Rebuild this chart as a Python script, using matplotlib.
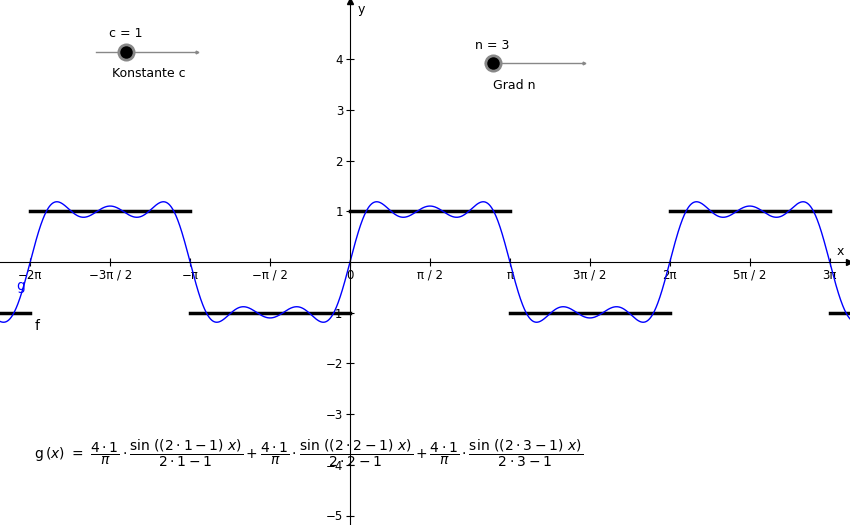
import numpy as np
import matplotlib.pyplot as plt

# slider values
c = 1
n = 3
# square wave f: (x start, x end, level) in multiples of pi
f_segments = [(-3, -2, -1), (-2, -1, 1), (-1, 0, -1), (0, 1, 1), (1, 2, -1), (2, 3, 1), (3, 4, -1)]
x_tick_pos = [-2, -1.5, -1, -0.5, 0, 0.5, 1, 1.5, 2, 2.5, 3]
x_tick_lab = ['−2π', '−3π / 2', '−π', '−π / 2', '0', 'π / 2', 'π', '3π / 2', '2π', '5π / 2', '3π']
y_ticks = [-5, -4, -3, -2, -1, 1, 2, 3, 4]

xmin, xmax = -350 / 50.9, 500 / 50.9
ymin, ymax = -263 / 50.7, 262 / 50.7

fig = plt.figure(figsize=(8.5, 5.25), dpi=100)
ax = fig.add_axes([0, 0, 1, 1])
ax.set_xlim(xmin, xmax)
ax.set_ylim(ymin, ymax)
for s in ['top', 'right']:
    ax.spines[s].set_visible(False)
ax.spines['left'].set_position(('data', 0))
ax.spines['bottom'].set_position(('data', 0))
ax.plot(xmax - 0.02, 0, '>k', ms=4, clip_on=False)
ax.plot(0, ymax - 0.02, '^k', ms=4, clip_on=False)

ax.set_xticks([t * np.pi for t in x_tick_pos])
ax.set_xticklabels(x_tick_lab)
ax.set_yticks(y_ticks)
ax.tick_params(direction='inout', length=6, labelsize=8.5, pad=2)
ax.text(xmax - 0.12, 0.08, 'x', fontsize=9, ha='right', va='bottom')
ax.text(0.15, ymax - 0.05, 'y', fontsize=9, va='top')

# f
for a, b, lvl in f_segments:
    ax.plot([a * np.pi, b * np.pi], [lvl, lvl], color='black', lw=2.5)

# g: partial Fourier sum
x = np.linspace(xmin, xmax, 2000)
g = np.zeros_like(x)
for k in range(1, n + 1):
    g += 4 * c / np.pi * np.sin((2 * k - 1) * x) / (2 * k - 1)
ax.plot(x, g, color='#0000ff', lw=1)
ax.text(-6.56, -0.55, 'g', color='#0000ff', fontsize=10)
ax.text(-6.2, -1.35, 'f', color='black', fontsize=10)

# sliders
def slider(x0, x1, y, knob, label, name):
    ax.plot([x0, x1], [y, y], color='#888888', lw=1)
    ax.plot(x1, y, '>', color='#888888', ms=2)
    ax.plot(knob, y, 'o', ms=11, mfc='black', mec='#888888', mew=2)
    ax.text(knob, y + 0.28, label, fontsize=9, ha='center')
    ax.text(knob + (x1 - x0) * 0.22, y - 0.5, name, fontsize=9, ha='center')

slider(-5.0, -3.0, 4.15, -4.4, 'c = 1', 'Konstante c')
slider(2.65, 4.6, 3.92, 2.8, 'n = 3', 'Grad n')

formula = (r'$\mathrm{g}\,(x)\ =\ \dfrac{4\cdot1}{\pi}\cdot\dfrac{\sin\,((2\cdot1-1)\ x)}{2\cdot1-1}'
           r'+\dfrac{4\cdot1}{\pi}\cdot\dfrac{\sin\,((2\cdot2-1)\ x)}{2\cdot2-1}'
           r'+\dfrac{4\cdot1}{\pi}\cdot\dfrac{\sin\,((2\cdot3-1)\ x)}{2\cdot3-1}$')
ax.text(-6.2, -3.78, formula, fontsize=10, va='center')

fig.savefig('out.png', dpi=100)
